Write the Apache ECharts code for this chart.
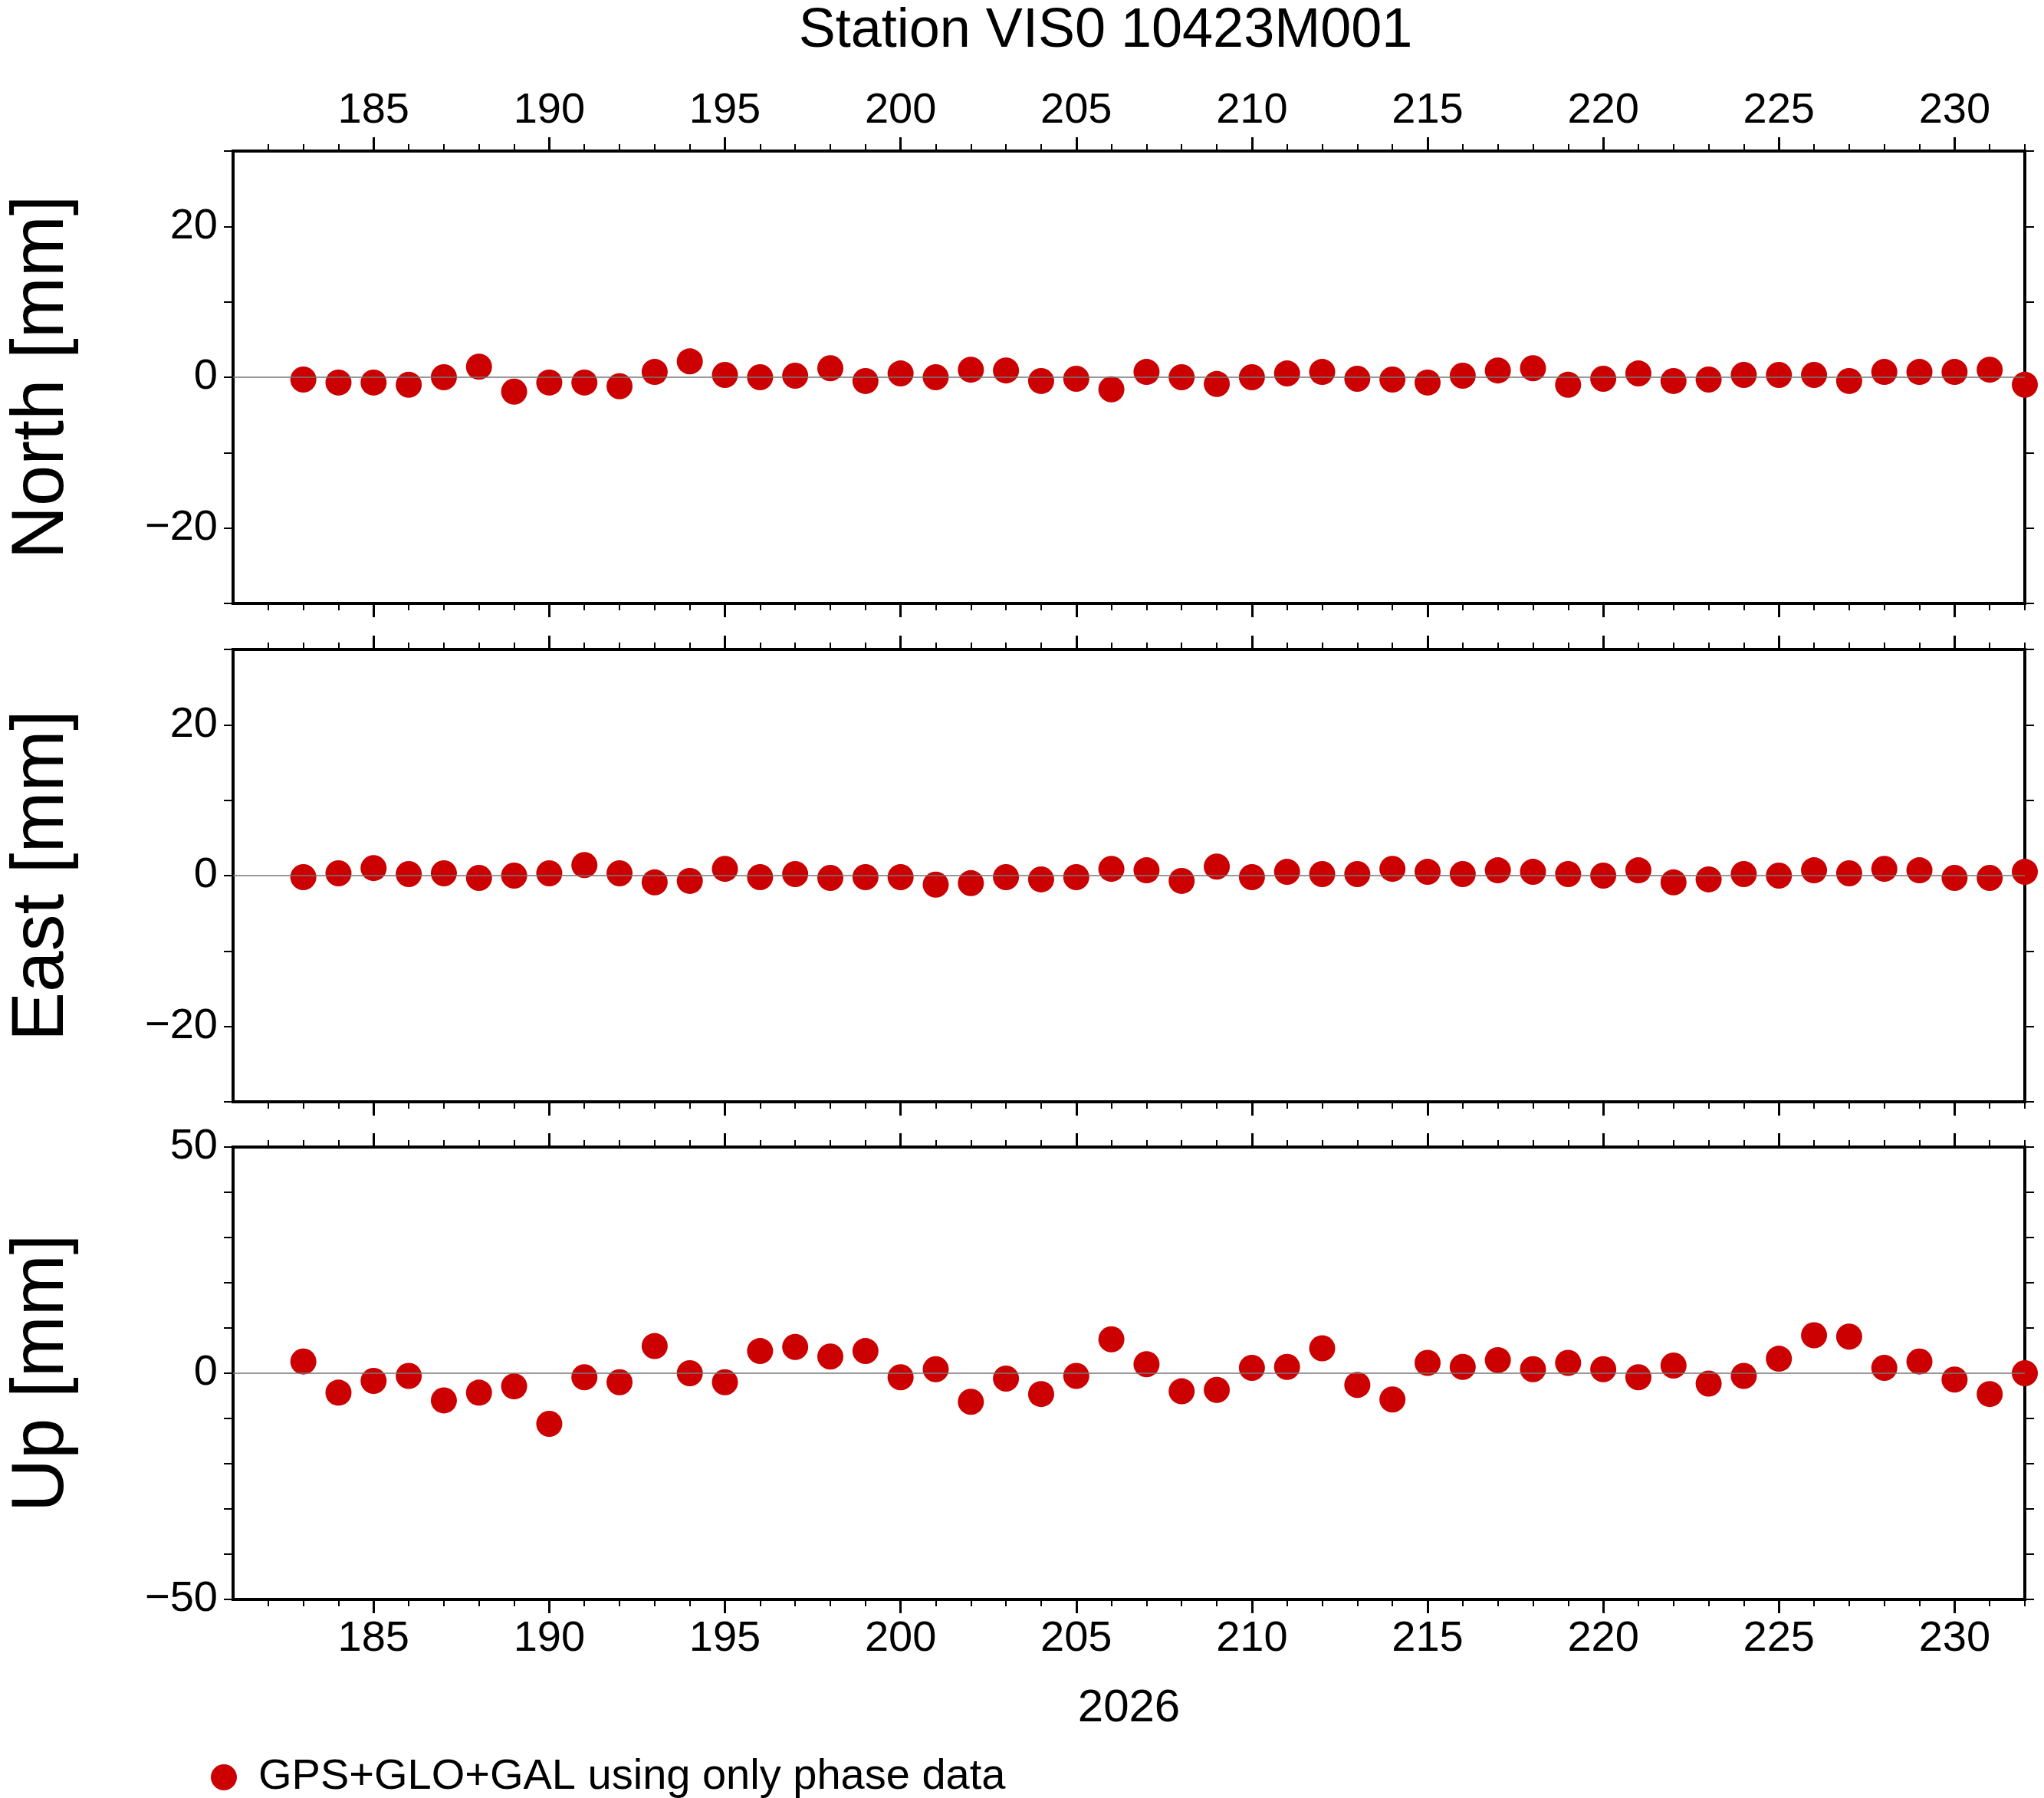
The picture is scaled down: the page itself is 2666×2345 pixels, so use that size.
<!DOCTYPE html>
<html style="height: 100%">
  <head>
    <meta charset="utf-8" />
    <title>ECharts</title>
    <script src="https://cdn.jsdelivr.net/npm/echarts@6/dist/echarts.min.js"></script>
  </head>
  <body style="height: 100%; margin: 0; background: #fff">
    <div id="container" style="width: 2666px; height: 2345px"></div>
    <script type="text/javascript">
      var days = [];
      for (var d = 183; d <= 232; d++) days.push(d);

      var north = [-0.3, -0.7, -0.7, -1, 0, 1.4, -1.9, -0.7, -0.7, -1.2, 0.7, 2.1, 0.3, 0, 0.2, 1.2, -0.5, 0.5, 0, 1,
        0.9, -0.5, -0.2, -1.6, 0.7, 0, -0.9, 0, 0.5, 0.7, -0.2, -0.3, -0.7, 0.2, 0.9, 1.2, -1, -0.2, 0.5, -0.5,
        -0.3, 0.3, 0.3, 0.3, -0.5, 0.7, 0.7, 0.7, 1, -1];
      var east = [-0.2, 0.3, 1, 0.2, 0.3, -0.3, 0, 0.3, 1.4, 0.3, -0.9, -0.7, 0.9, -0.2, 0.2, -0.3, -0.2, -0.2, -1.2, -1,
        -0.2, -0.5, -0.2, 0.9, 0.7, -0.7, 1.2, -0.2, 0.5, 0.2, 0.2, 0.9, 0.5, 0.2, 0.7, 0.5, 0.2, 0, 0.7, -0.9,
        -0.5, 0.2, 0, 0.7, 0.3, 0.9, 0.7, -0.3, -0.3, 0.5];
      var up = [2.6, -4.3, -1.7, -0.6, -6, -4.3, -2.9, -11.2, -0.9, -2, 6, 0, -2, 4.9, 5.8, 3.7, 4.9, -0.9, 0.9, -6.3,
        -1.2, -4.6, -0.6, 7.5, 2, -4, -3.7, 1.2, 1.4, 5.5, -2.6, -5.8, 2.3, 1.4, 2.9, 0.9, 2.3, 0.9, -0.9, 1.7,
        -2.3, -0.6, 3.2, 8.4, 8.1, 1.2, 2.6, -1.4, -4.6, 0];

      var panelNames = ['North [mm]', 'East [mm]', 'Up [mm]'];
      var panelData = [north, east, up];
      var yRanges = [[-30, 30, [-20, 0, 20]], [-30, 30, [-20, 0, 20]], [-50, 50, [-50, 0, 50]]];
      var majorX = [185, 190, 195, 200, 205, 210, 215, 220, 225, 230];
      var minorX = [];
      for (var m = 182; m <= 232; m++) minorX.push(m);

      var font = 'Liberation Sans';
      var tops = [197, 847, 1496];
      var H = 590;
      var grids = [], xAxes = [], yAxes = [], series = [];

      for (var i = 0; i < 3; i++) {
        grids.push({ left: 277, width: 2364, top: tops[i], height: H, show: true,
          borderColor: '#000', borderWidth: 4, backgroundColor: 'transparent' });
        ['bottom', 'top'].forEach(function (pos) {
          var labelsOn = (i === 2 && pos === 'bottom') || (i === 0 && pos === 'top');
          xAxes.push({ type: 'value', gridIndex: i, position: pos, min: 181, max: 232,
            axisLine: { show: false, onZero: false }, splitLine: { show: false },
            axisTick: { customValues: minorX, length: 9, lineStyle: { color: '#000', width: 2 } },
            axisLabel: { show: false } });
          xAxes.push({ type: 'value', gridIndex: i, position: pos, min: 181, max: 232,
            axisLine: { show: false, onZero: false }, splitLine: { show: false },
            axisTick: { customValues: majorX, length: 18, lineStyle: { color: '#000', width: 3 } },
            axisLabel: { show: labelsOn, customValues: majorX, fontSize: 56, fontFamily: font, color: '#000', margin: 24 },
            name: (i === 2 && pos === 'bottom') ? '2026' : '', nameLocation: 'middle', nameGap: 112,
            nameTextStyle: { fontSize: 60, fontFamily: font, color: '#000' } });
        });
        var yr = yRanges[i];
        yAxes.push({ type: 'value', gridIndex: i, position: 'left', min: yr[0], max: yr[1], interval: 10,
          axisLine: { show: false, onZero: false }, splitLine: { show: false },
          axisTick: { length: 12, lineStyle: { color: '#000', width: 2 } },
          axisLabel: { customValues: yr[2], fontSize: 56, fontFamily: font, color: '#000', margin: 20,
            formatter: function (v) { return v < 0 ? '\u2212' + (-v) : String(v); } },
          name: panelNames[i], nameLocation: 'middle', nameRotate: 90, nameGap: 200,
          nameTextStyle: { fontSize: 96, fontFamily: font, color: '#000' } });
        yAxes.push({ type: 'value', gridIndex: i, position: 'right', min: yr[0], max: yr[1], interval: 10,
          axisLine: { show: false, onZero: false }, splitLine: { show: false },
          axisTick: { length: 12, lineStyle: { color: '#000', width: 2 } },
          axisLabel: { show: false } });
        series.push({
          name: 'GPS+GLO+GAL using only phase data', type: 'scatter',
          xAxisIndex: i * 4, yAxisIndex: i * 2, clip: false,
          symbolSize: 34, itemStyle: { color: '#cc0000', opacity: 1 },
          data: days.map(function (d, k) { return [d, panelData[i][k]]; }),
          markLine: { silent: true, symbol: 'none', label: { show: false },
            lineStyle: { color: '#777', width: 1.5, type: 'solid' }, data: [{ yAxis: 0 }] },
          z: 3
        });
      }

      var myChart = echarts.init(document.getElementById('container'));
      myChart.setOption({
        backgroundColor: '#fff',
        animation: false,
        title: { text: 'Station VIS0 10423M001', left: 1437, textAlign: 'center', top: 0,
          textStyle: { fontSize: 72, fontWeight: 'normal', fontFamily: font, color: '#000' } },
        legend: { left: 270, top: 2285, itemWidth: 40, itemHeight: 34, itemGap: 20,
          data: [{ name: 'GPS+GLO+GAL using only phase data', icon: 'circle' }],
          textStyle: { fontSize: 56, fontFamily: font, color: '#000', padding: [0, 0, 0, 20] } },
        grid: grids,
        xAxis: xAxes,
        yAxis: yAxes,
        series: series
      });
    </script>
  </body>
</html>
